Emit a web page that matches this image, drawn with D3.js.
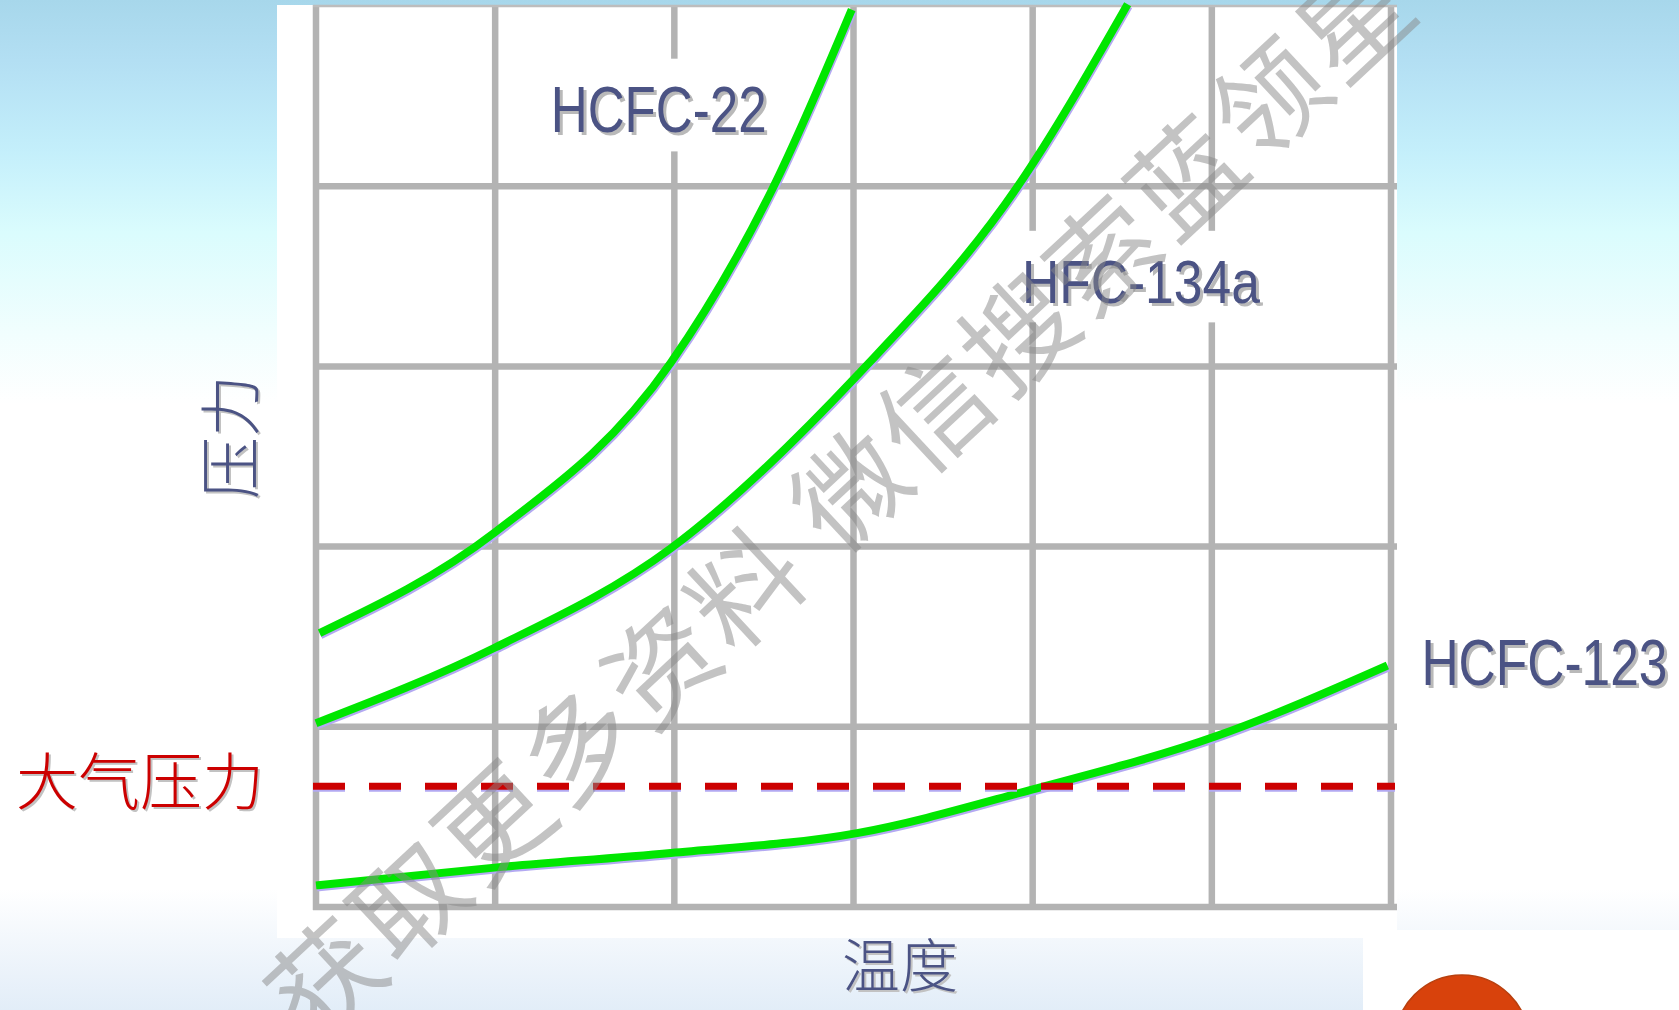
<!DOCTYPE html>
<html>
<head>
<meta charset="utf-8">
<script src="https://cdn.jsdelivr.net/npm/d3@7"></script>
<style>
    html, body { margin: 0; padding: 0; overflow: hidden; background: #fff; }
    svg { display: block; }
</style>
</head>
<body>
<div id="chart"></div>
<script>
// grid values (temperature on x, pressure on y, both in grid cells)
let xTicks = [0, 1, 2, 3, 4, 5, 6]
let yTicks = [0, 1, 2, 3, 4, 5]

// curves: [temperature, pressure]
let hcfc22 = [[0.02, 1.52], [1.00, 2.08], [1.98, 3.02], [2.55, 3.99], [2.99, 4.98]]
let hfc134a = [[0.00, 1.02], [1.00, 1.44], [1.98, 1.99], [3.02, 2.95], [3.91, 3.99], [4.53, 5.01]]
let hcfc123 = [[0.00, 0.12], [1.01, 0.22], [1.98, 0.30], [3.02, 0.41], [3.99, 0.65], [5.03, 0.95], [5.98, 1.34]]
let seriesNames = ["HCFC-22", "HFC-134a", "HCFC-123"]
let atmPressure = 0.67

let atmLabel = "大气压力"
let xTitle = "温度"
let yTitle = "压力"
let watermark = "获取更多资料 微信搜索蓝领星"

let W = 1679, H = 1010
let textBlue = "#4b5384"
let green = "#00e600"

let svg = d3.select("#chart")
    .append("svg")
    .attr("width", W)
    .attr("height", H)

// slide background
let defs = svg.append("defs")
let grad = defs.append("linearGradient")
    .attr("id", "bg")
    .attr("x1", 0).attr("y1", 0).attr("x2", 0).attr("y2", 1)
let stops = [[0, "#a7d7eb"], [0.06, "#b3dff3"], [0.15, "#c4effb"], [0.23, "#dafcfd"], [0.33, "#f1fefe"], [0.40, "#ffffff"],
    [0.88, "#ffffff"], [1, "#e2edf8"]]
grad.selectAll("stop")
    .data(stops)
    .enter()
    .append("stop")
    .attr("offset", d => d[0])
    .attr("stop-color", d => d[1])

svg.append("rect")
    .attr("width", W).attr("height", H)
    .attr("fill", "url(#bg)")

// white picture panel
svg.append("rect")
    .attr("x", 277).attr("y", 5)
    .attr("width", 1120).attr("height", 933)
    .attr("fill", "#ffffff")
svg.append("rect")
    .attr("x", 1363).attr("y", 930)
    .attr("width", W - 1363).attr("height", H - 930)
    .attr("fill", "#ffffff")

// orange decoration bottom right
svg.append("circle")
    .attr("cx", 1462).attr("cy", 1042).attr("r", 67)
    .attr("fill", "#d8420c")
    .attr("stroke", "#b8400f")
    .attr("stroke-width", 1.5)

let x = d3.scaleLinear().domain([0, 6]).range([316, 1391])
let y = d3.scaleLinear().domain([0, 5]).range([907, 6])

// grid
let gridColor = "#b3b3b3"
svg.selectAll(".vGrid")
    .data(xTicks)
    .enter()
    .append("line")
    .attr("class", "vGrid")
    .attr("x1", d => x(d)).attr("x2", d => x(d))
    .attr("y1", y(5) - 1).attr("y2", y(0) + 3)
    .attr("stroke", gridColor)
    .attr("stroke-width", 6.5)

svg.selectAll(".hGrid")
    .data(yTicks)
    .enter()
    .append("line")
    .attr("class", "hGrid")
    .attr("x1", x(0) - 3).attr("x2", x(6) + 6)
    .attr("y1", d => y(d)).attr("y2", d => y(d))
    .attr("stroke", d => d === 5 ? "#bdbdbd" : gridColor)
    .attr("stroke-width", d => d === 5 ? 2.5 : 6.5)

// series labels: narrow text stretched tall, white box behind hides the grid
let labelSpots = [
    { name: seriesNames[0], tx: 1.31, ty: 4.30, size: 64, len: 216 },
    { name: seriesNames[1], tx: 3.94, ty: 3.35, size: 62, len: 238 },
    { name: seriesNames[2], tx: 6.17, ty: 1.23, size: 65, len: 246 }
]
let latin = "'Liberation Sans', Arial, sans-serif"
let labelLayer = svg.append("g")
labelSpots.forEach(function (d) {
    let g = labelLayer.append("g")
    let box = g.append("rect").attr("fill", "#ffffff")
    let inner = g.append("g")
    let shadow = inner.append("text")
        .attr("font-family", latin)
        .attr("fill", "#b9b9b9")
        .text(d.name)
    let t = inner.append("text")
        .attr("font-family", latin)
        .attr("font-size", d.size)
        .attr("fill", textBlue)
        .text(d.name)
    // shrink font so the natural width fits, then stretch vertically back
    let w = t.node().getComputedTextLength()
    let fs = d.size * d.len / w
    let k = d.size / fs
    t.attr("font-size", fs)
    shadow.attr("font-size", fs).attr("x", 3).attr("y", 3 / k)
    inner.attr("transform", "translate(" + x(d.tx) + "," + y(d.ty) + ") scale(1," + k + ")")
    let bb = t.node().getBBox()
    box.attr("x", x(d.tx) + bb.x - 14).attr("y", y(d.ty) + bb.y * k - 16)
        .attr("width", bb.width + 28).attr("height", bb.height * k + 22)
})

// curves
let line = d3.line()
    .x(d => x(d[0]))
    .y(d => y(d[1]))
    .curve(d3.curveMonotoneX)

let curves = svg.selectAll(".curve")
    .data([hcfc22, hfc134a, hcfc123])
    .enter()
    .append("g")
    .attr("class", "curve")

curves.append("path")
    .attr("d", line)
    .attr("transform", "translate(1,2)")
    .attr("fill", "none")
    .attr("stroke", "#b3a9f2")
    .attr("stroke-width", 8)

curves.append("path")
    .attr("d", line)
    .attr("fill", "none")
    .attr("stroke", green)
    .attr("stroke-width", 8)

// atmospheric pressure, dashed
svg.append("line")
    .attr("x1", x(0) - 3).attr("x2", x(6) + 4)
    .attr("y1", y(atmPressure) + 2).attr("y2", y(atmPressure) + 2)
    .attr("stroke", "#b3a9f2")
    .attr("stroke-width", 7)
    .attr("stroke-dasharray", "32 24")
svg.append("line")
    .attr("x1", x(0) - 3).attr("x2", x(6) + 4)
    .attr("y1", y(atmPressure)).attr("y2", y(atmPressure))
    .attr("stroke", "#cc0000")
    .attr("stroke-width", 7)
    .attr("stroke-dasharray", "32 24")

// chinese titles with a grey drop shadow
let cjk = "'Noto Sans CJK SC', sans-serif"
function shadowText(txt, cx, cy, size, color, rot) {
    [["#c2c2c2", 2, 2], [color, 0, 0]].forEach(function (s) {
        svg.append("text")
            .attr("transform", "translate(" + (cx + s[1]) + "," + (cy + s[2]) + ") rotate(" + rot + ")")
            .attr("text-anchor", "middle")
            .attr("dominant-baseline", "central")
            .attr("font-family", cjk)
            .attr("font-weight", 300)
            .attr("font-size", size)
            .attr("fill", s[0])
            .text(txt)
    })
}
shadowText(atmLabel, 140, y(atmPressure) - 8, 62, "#cc0000", 0)
shadowText(yTitle, 227, 437, 62, textBlue, -90)
shadowText(xTitle, 900, 962, 58, textBlue, 0)

// watermark over everything
svg.append("text")
    .attr("transform", "translate(835,495) rotate(-43)")
    .attr("text-anchor", "middle")
    .attr("dominant-baseline", "central")
    .attr("font-family", cjk)
    .attr("font-size", 110)
    .attr("textLength", 1515)
    .attr("lengthAdjust", "spacing")
    .attr("fill", "#888888")
    .attr("fill-opacity", 0.5)
    .text(watermark)
</script>
</body>
</html>
